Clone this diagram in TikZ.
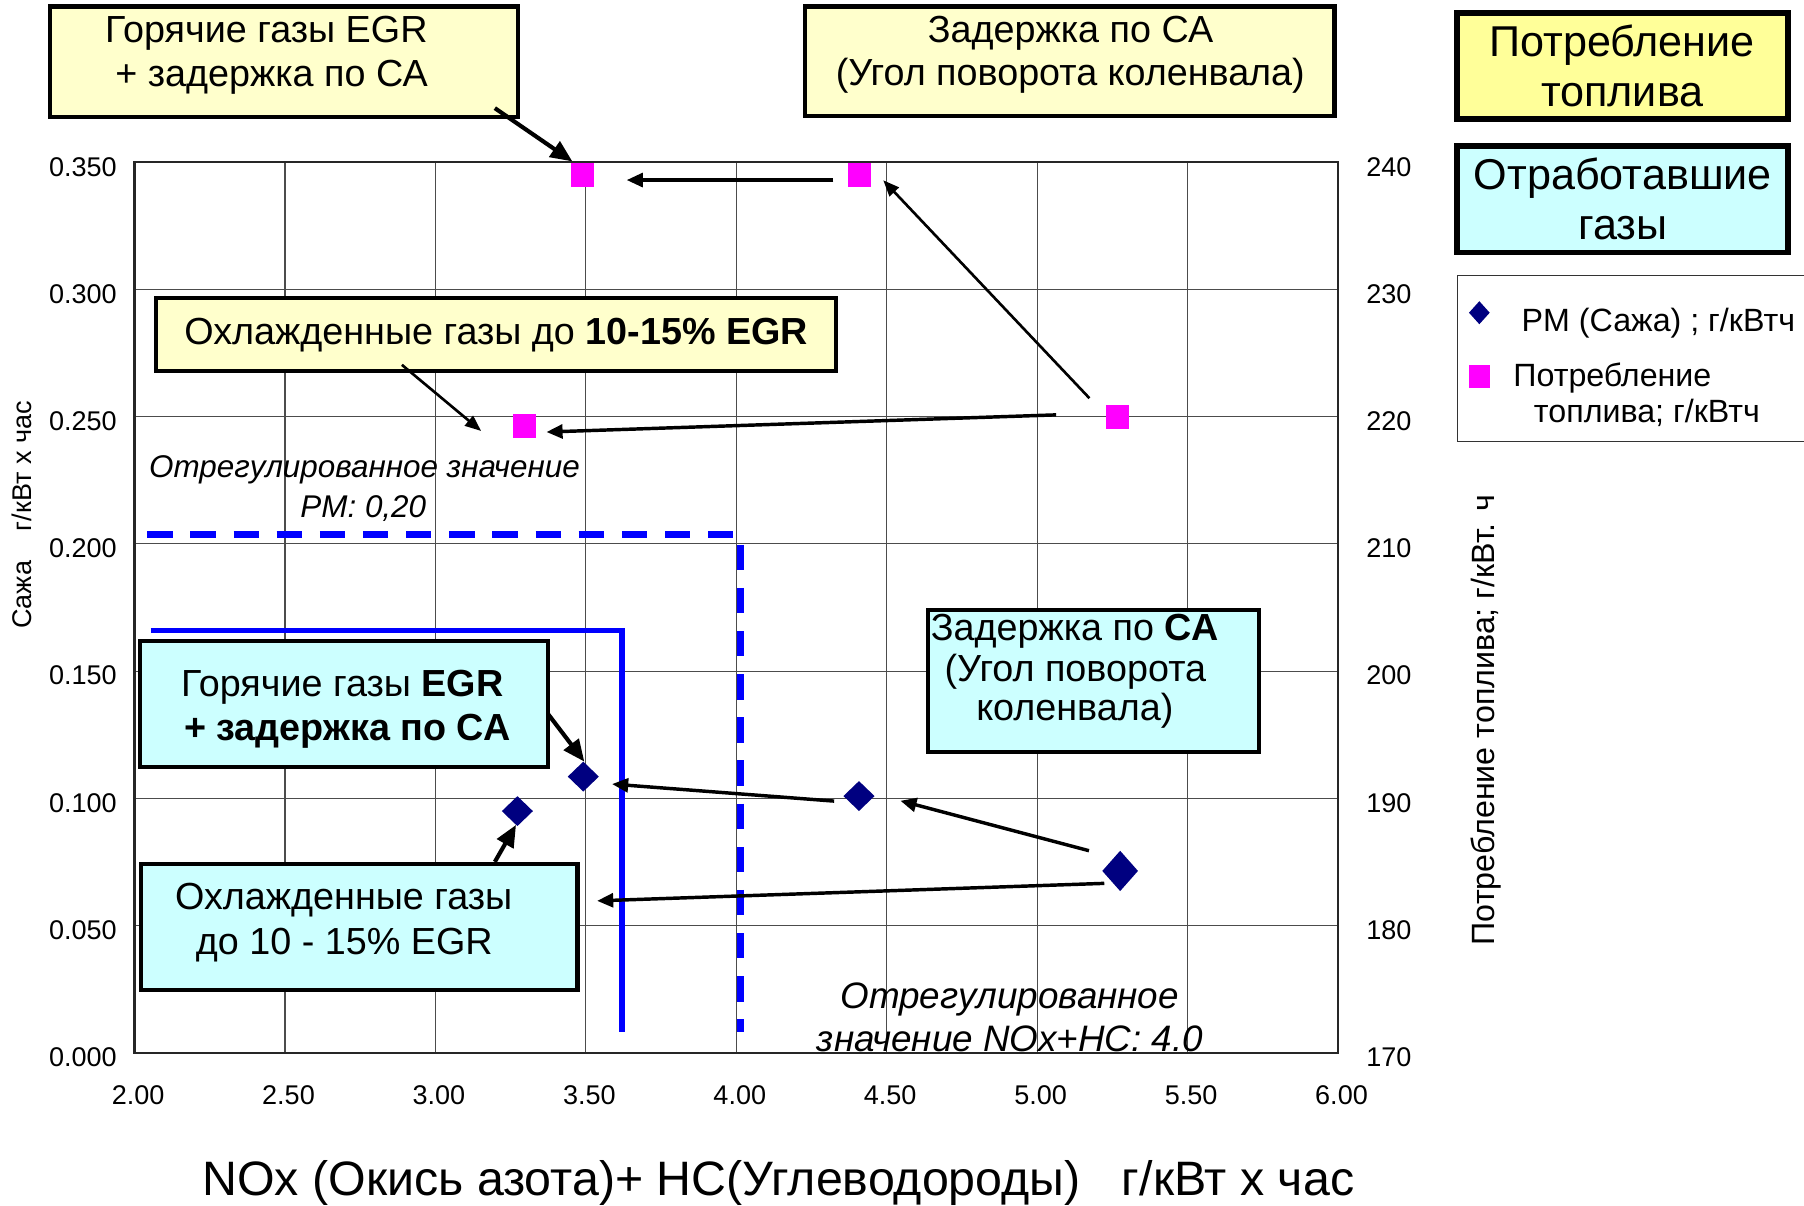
\documentclass[tikz,border=0pt]{standalone}
\usepackage{fontspec}
\setmainfont{Liberation Sans}
\usetikzlibrary{arrows.meta,shapes.geometric}

\definecolor{boxyellow}{HTML}{FFFFCC}
\definecolor{boxyellowB}{HTML}{FFFF99}
\definecolor{boxcyan}{HTML}{CCFFFF}
\definecolor{pmnavy}{HTML}{000080}
\definecolor{fuelmag}{HTML}{FF00FF}
\definecolor{limblue}{HTML}{0000FF}

\newcommand{\fsz}[2]{\fontsize{#1}{#2}\selectfont}

\begin{document}
\begin{tikzpicture}[x=1pt,y=-1pt,
  every node/.style={inner sep=0pt, outer sep=0pt},
  boxY/.style={draw=black, line width=3.7pt, fill=boxyellow},
  boxYB/.style={draw=black, line width=5pt, fill=boxyellowB},
  boxC/.style={draw=black, line width=3.5pt, fill=boxcyan},
  boxCB/.style={draw=black, line width=5pt, fill=boxcyan},
  boxtxt/.style={anchor=base, font=\fsz{32.8}{38}},
  bigtxt/.style={anchor=base, font=\fsz{37.5}{44}},
  ticklbl/.style={font=\fsz{23.5}{28}},
  legtxt/.style={anchor=base west, font=\fsz{28}{33}},
  limtxtA/.style={anchor=base, font=\fsz{27.3}{33}\itshape},
  limtxtB/.style={anchor=base, font=\fsz{32}{38}\itshape},
  gridln/.style={line width=1pt, black!70},
  frameln/.style={line width=2pt, black!85},
  pm/.style={diamond, fill=pmnavy, minimum width=27pt, minimum height=26pt},
  pmbig/.style={pm, minimum width=31pt, minimum height=35pt},
  fuel/.style={rectangle, fill=fuelmag, minimum width=20pt, minimum height=21pt},
  arr/.style={line width=3pt, -{Triangle[length=14pt,width=12pt]}},
  arrbig/.style={line width=3.6pt, -{Triangle[length=19pt,width=16pt]}},
  arrthin/.style={line width=2.3pt, -{Triangle[length=14pt,width=11pt]}},
  limsolid/.style={limblue, line width=5pt},
  limdash/.style={limblue, line width=6pt, dash pattern=on 22pt off 15.5pt},
]
\useasboundingbox (0,0) rectangle (1568,1048);
\fill[white] (0,0) rectangle (1568,1048);
\clip (0,0) rectangle (1568,1048);

% grid
\foreach \gx in {247.75,378.5,509.25,640,770.75,901.5,1032.25}
  \draw[gridln] (\gx,141) -- (\gx,915);
\foreach \gy in {251.57,362.14,472.71,583.29,693.86,804.43}
  \draw[gridln] (117,\gy) -- (1163,\gy);
\draw[frameln] (117,141) rectangle (1163,915);

% tick labels
\foreach \v/\gy [count=\i] in {0.350/141,0.300/251.57,0.250/362.14,0.200/472.71,0.150/583.29,0.100/693.86,0.050/804.43,0.000/915}
  \node[ticklbl, anchor=base east] (yl\i) at (101.5,\gy+12) {\v};
\foreach \v/\gy [count=\i] in {240/141,230/251.57,220/362.14,210/472.71,200/583.29,190/693.86,180/804.43,170/915}
  \node[ticklbl, anchor=base west] (yr\i) at (1187.5,\gy+12) {\v};
\foreach \v/\gx [count=\i] in {2.00/117,2.50/247.75,3.00/378.5,3.50/509.25,4.00/640,4.50/770.75,5.00/901.5,5.50/1032.25,6.00/1163}
  \node[ticklbl, anchor=base] (xl\i) at (\gx+3,960) {\v};

% axis titles
\node[font=\fsz{42}{50}, anchor=base] (xtitle) at (676.5,1039)
  {NOx (Окись азота)+ HC(Углеводороды)\hspace{36pt}г/кВт х час};
\node[font=\fsz{23.5}{28}, rotate=90, anchor=base] (ytitle) at (27.5,447.6)
  {Сажа\hspace{26pt}г/кВт х час};
\node[font=\fsz{28}{33}, rotate=90, anchor=base] (y2title) at (1299,625.9)
  {Потребление топлива; г/кВт. ч};

% limit lines
\draw[limdash] (128,464.5) -- (644,464.5) -- (644,897);
\draw[limsolid] (131,548) -- (540.5,548) -- (540.5,897);

% boxes
\node[boxY, minimum width=406.8pt, minimum height=96pt] (tlbox) at (246.75,53.55) {};
\node[boxY, minimum width=460pt, minimum height=95.1pt] (tmbox) at (929.85,53.1) {};
\node[boxYB, minimum width=287.4pt, minimum height=92pt] (rybox) at (1410.2,57.5) {};
\node[boxCB, minimum width=287.4pt, minimum height=92.5pt] (rcbox) at (1410.2,173.25) {};
\node[boxY, minimum width=591.1pt, minimum height=63.3pt] (mybox) at (431.1,290.5) {};
\node[boxC, minimum width=354.3pt, minimum height=109.5pt] (chbox) at (299.1,612.2) {};
\node[boxC, minimum width=379pt, minimum height=109.3pt] (ccbox) at (312.45,805.5) {};
\node[boxC, minimum width=288pt, minimum height=123.3pt] (czbox) at (950.25,591.6) {};
\node[draw=black!80, line width=1.2pt, minimum width=313pt, minimum height=144.5pt] (legend) at (1423.5,311.75) {};

% box texts
\node[boxtxt] (tl1) at (231.5,37) {Горячие газы EGR};
\node[boxtxt] (tl2) at (236,75.5) {+ задержка по СА};
\node[boxtxt] (tm1) at (930.5,36.6) {Задержка по СА};
\node[boxtxt] (tm2) at (930.3,74.5) {(Угол поворота коленвала)};
\node[bigtxt] (ry1) at (1410,49) {Потребление};
\node[bigtxt] (ry2) at (1410,92.2) {топлива};
\node[bigtxt] (rc1) at (1410.5,164.5) {Отработавшие};
\node[bigtxt] (rc2) at (1410.5,208.6) {газы};
\node[boxtxt] (my1) at (431.2,299.5) {Охлажденные газы до \textbf{10-15\% EGR}};
\node[boxtxt] (ch1) at (297.4,605) {Горячие газы \textbf{EGR}};
\node[boxtxt] (ch2) at (301.8,643.2) {\textbf{+ задержка по СА}};
\node[boxtxt] (cc1) at (298.8,790.3) {Охлажденные газы};
\node[boxtxt] (cc2) at (299.3,829.7) {до 10 - 15\% EGR};
\node[boxtxt] (cz1) at (934,556.5) {Задержка по \textbf{СА}};
\node[boxtxt] (cz2) at (934.7,592.3) {(Угол поворота};
\node[boxtxt] (cz3) at (934.2,626.3) {коленвала)};

% limit labels
\node[limtxtA] (lpm1) at (316.9,414.9) {Отрегулированное значение};
\node[limtxtA] (lpm2) at (315.8,449.6) {PM: 0,20};
\node[limtxtB] (lnx1) at (877.6,876.2) {Отрегулированное};
\node[limtxtB] (lnx2) at (877.9,913.8) {значение NOx+HC: 4.0};

% legend
\node[diamond, fill=pmnavy, minimum width=18pt, minimum height=20pt] (legpm) at (1285.8,271.8) {};
\node[fuel, minimum width=18pt, minimum height=20pt] (legfuel) at (1286,327) {};
\node[legtxt] (legt1) at (1322.6,287.7) {PM (Сажа) ; г/кВтч};
\node[legtxt] (legt2) at (1315.4,336) {Потребление};
\node[legtxt] (legt3) at (1333.3,367.4) {топлива; г/кВтч};

% data points
\node[fuel] (f1) at (506.6,152) {};
\node[fuel] (f2) at (747.2,152) {};
\node[fuel] (f3) at (456.3,370.3) {};
\node[fuel] (f4) at (971.2,362.2) {};
\node[pm] (p1) at (507,675) {};
\node[pm] (p2) at (449.7,705) {};
\node[pm] (p3) at (746.6,691.9) {};
\node[pmbig] (p4) at (973.6,757) {};

% arrow end points
\coordinate (a1s) at (430.1,94);   \coordinate (a1e) at (497.5,140.3);
\coordinate (a2s) at (724.3,156.5); \coordinate (a2e) at (544.7,156.5);
\coordinate (a3s) at (946.9,346.1); \coordinate (a3e) at (767.7,156.7);
\coordinate (a4s) at (918,360.6);  \coordinate (a4e) at (475,375.5);
\coordinate (a5s) at (349.3,317.1); \coordinate (a5e) at (418.2,374.6);
\coordinate (b1s) at (476.6,620.9); \coordinate (b1e) at (507.9,662);
\coordinate (b2s) at (725,696.3);  \coordinate (b2e) at (532,681.5);
\coordinate (b3s) at (946.5,739.4); \coordinate (b3e) at (782.6,696);
\coordinate (b4s) at (959.8,767.8); \coordinate (b4e) at (519,783);
\coordinate (b5s) at (430.1,749.1); \coordinate (b5e) at (448.5,717);

\draw[arrbig] (a1s) -- (a1e);
\draw[arr] (a2s) -- (a2e);
\draw[arrthin] (a3s) -- (a3e);
\draw[arr] (a4s) -- (a4e);
\draw[arrthin] (a5s) -- (a5e);
\draw[arrbig] (b1s) -- (b1e);
\draw[arr] (b2s) -- (b2e);
\draw[arr] (b3s) -- (b3e);
\draw[arr] (b4s) -- (b4e);
\draw[arrbig] (b5s) -- (b5e);
\end{tikzpicture}
\end{document}
